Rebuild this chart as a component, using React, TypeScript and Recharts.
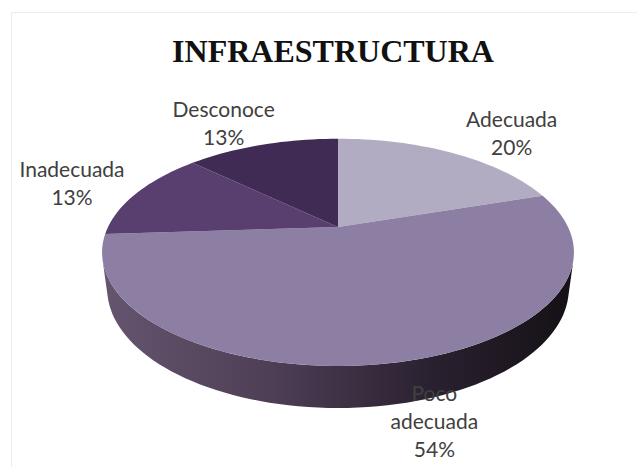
import React from "react";
import { PieChart, Pie, Cell } from "recharts";

const categories = ["Adecuada", "Poco adecuada", "Inadecuada", "Desconoce"];
const shares = [20, 54, 13, 13];
const sliceColors = ["#b1acc2", "#8d7fa3", "#583f6f", "#3f2b53"];

const chartData = categories.map((name, i) => ({ name, value: shares[i] }));

// fake 3D: tilt the disc and add a bit of perspective
const TILT = (28 * Math.PI) / 180;
const DIST = 3.96;
const THICK = 0.18;
// rim is visible where sin(angle) < -1 / (DIST * cos(TILT))
const RIM = (Math.asin(1 / (DIST * Math.cos(TILT))) * 180) / Math.PI;

function project(cx: number, cy: number, r: number, X: number, Y: number, h: number) {
  const s = Math.sin(TILT);
  const c = Math.cos(TILT);
  const up = Y * s + h * c;
  const z = -Y * c + h * s;
  const k = (r * DIST) / (DIST - z);
  return [cx + k * X, cy - k * up];
}

function arcPoints(cx: number, cy: number, r: number, a1: number, a2: number, h: number) {
  const pts: number[][] = [];
  const steps = Math.max(2, Math.ceil(Math.abs(a2 - a1) / 2));
  for (let i = 0; i <= steps; i++) {
    const a = ((a1 + ((a2 - a1) * i) / steps) * Math.PI) / 180;
    pts.push(project(cx, cy, r, Math.cos(a), Math.sin(a), h));
  }
  return pts;
}

const toPath = (pts: number[][]) =>
  pts.map((p, i) => `${i === 0 ? "M" : "L"}${p[0].toFixed(2)},${p[1].toFixed(2)}`).join(" ") + " Z";

const renderSlice = (props: any) => {
  const { cx, cy, outerRadius, startAngle, endAngle, fill } = props;
  const apex = project(cx, cy, outerRadius, 0, 0, 0);
  const top = [apex, ...arcPoints(cx, cy, outerRadius, startAngle, endAngle, 0)];

  const lo = Math.max(Math.min(startAngle, endAngle), -180 + RIM);
  const hi = Math.min(Math.max(startAngle, endAngle), -RIM);
  let side = null;
  if (lo < hi) {
    const upper = arcPoints(cx, cy, outerRadius, lo, hi, 0);
    const lower = arcPoints(cx, cy, outerRadius, hi, lo, -THICK);
    side = <path d={toPath([...upper, ...lower])} fill="url(#pieSide)" stroke="none" />;
  }

  return (
    <g>
      <defs>
        <linearGradient id="pieSide" gradientUnits="userSpaceOnUse" x1={cx - outerRadius} y1={0} x2={cx + outerRadius} y2={0}>
          <stop offset="0%" stopColor="#64546d" />
          <stop offset="35%" stopColor="#4e3f57" />
          <stop offset="70%" stopColor="#2a2130" />
          <stop offset="100%" stopColor="#161116" />
        </linearGradient>
      </defs>
      {side}
      <path d={toPath(top)} fill={fill} stroke="none" />
    </g>
  );
};

const renderLabel = (props: any) => {
  const { cx, cy, outerRadius, midAngle, name, percent } = props;
  const a = (midAngle * Math.PI) / 180;
  const ky = Math.sin(a) < 0 ? 1.3 : 1.36;
  const [x0, y] = project(cx, cy, outerRadius, Math.cos(a) * 1.6, Math.sin(a) * ky, 0);
  const words = String(name).split(" ");
  const lines = [...words, `${Math.round(percent * 100)}%`];
  const half = Math.max(...lines.map((t) => t.length)) * 5.2;
  const x = Math.min(Math.max(x0, 20 + half), 617 - half);
  const lh = 28;
  const y0 = y - ((lines.length - 1) * lh) / 2;
  return (
    <text x={x} y={y0} textAnchor="middle" dominantBaseline="central" fill="#404040" fontSize={21} fontFamily="Lato, 'Open Sans', sans-serif">
      {lines.map((t, i) => (
        <tspan key={i} x={x} y={y0 + i * lh}>{t}</tspan>
      ))}
    </text>
  );
};

export default function App() {
  return (
    <div style={{ position: "absolute", left: 0, top: 0, width: 637, height: 467, background: "#ffffff", overflow: "hidden" }}>
      <div style={{ position: "absolute", left: 11, top: 12, width: 700, height: 600, border: "1px solid #ececec" }} />
      <div style={{ position: "absolute", left: 0, top: 33, width: 666, textAlign: "center", fontFamily: "'Liberation Serif', 'Times New Roman', serif", fontWeight: "bold", fontSize: 32, color: "#111111" }}>
        INFRAESTRUCTURA
      </div>
      <div style={{ position: "absolute", left: 0, top: 0 }}>
        <PieChart width={637} height={467}>
          <Pie
            data={chartData}
            dataKey="value"
            nameKey="name"
            cx={333}
            cy={222}
            outerRadius={230}
            startAngle={90}
            endAngle={-270}
            stroke="none"
            labelLine={false}
            label={renderLabel}
            shape={renderSlice}
            inactiveShape={renderSlice}
            activeShape={renderSlice}
            isAnimationActive={false}
          >
            {chartData.map((d, i) => (
              <Cell key={d.name} fill={sliceColors[i]} />
            ))}
          </Pie>
        </PieChart>
      </div>
    </div>
  );
}
